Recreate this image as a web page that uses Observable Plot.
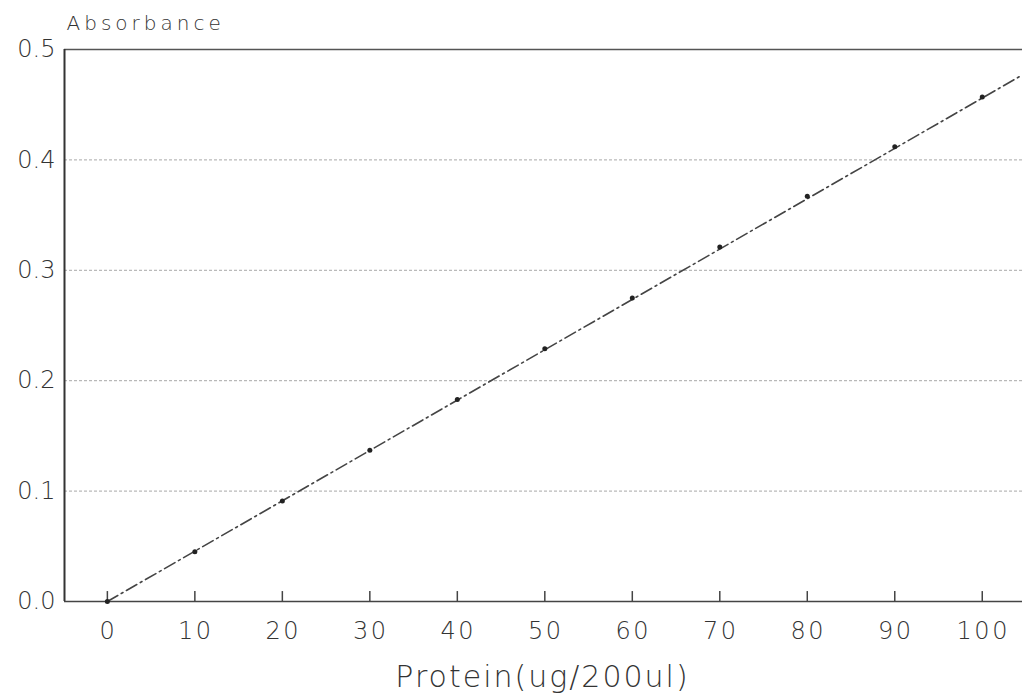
<!DOCTYPE html>
<html>
<head>
<meta charset="utf-8">
<script src="https://cdn.jsdelivr.net/npm/d3@7"></script>
<script src="https://cdn.jsdelivr.net/npm/@observablehq/plot@0.6"></script>
<style>
  html, body { margin: 0; padding: 0; background: #fff; }
  svg { display: block; }
  svg text { font-weight: 200; }
  g[aria-label="x-axis tick label"] text { letter-spacing: 2.5px; }
  g[aria-label="y-axis tick label"] text { letter-spacing: 0px; }
  g.xlabel text { letter-spacing: 2px; }
  g.ylabel text { letter-spacing: 4px; }
</style>
</head>
<body>
<div id="chart"></div>
<script>
const protein = [0, 10, 20, 30, 40, 50, 60, 70, 80, 90, 100];
const absorbance = [0.0, 0.045, 0.091, 0.137, 0.183, 0.229, 0.275, 0.321, 0.367, 0.412, 0.457];
const fitX = [0, 104.6];
const fitY = [0.0, 0.477];
const xTicks = [0, 10, 20, 30, 40, 50, 60, 70, 80, 90, 100];
const yTicks = [0.0, 0.1, 0.2, 0.3, 0.4, 0.5];
const gridY = [0.1, 0.2, 0.3, 0.4];
const xLabel = "Protein(ug/200ul)";
const yLabel = "Absorbance";

const points = protein.map((p, i) => ({x: p, y: absorbance[i]}));
const fit = fitX.map((x, i) => ({x, y: fitY[i]}));

const font = "'DejaVu Sans', sans-serif";

const chart = Plot.plot({
  width: 1022,
  height: 700,
  marginLeft: 64,
  marginRight: 0,
  marginTop: 49,
  marginBottom: 99,
  style: {fontFamily: font, color: "#333", background: "#fff"},
  x: {domain: [-4.9, 104.6], axis: null},
  y: {domain: [0, 0.5], axis: null},
  marks: [
    Plot.ruleY(gridY, {stroke: "#999", strokeWidth: 1, strokeDasharray: "3,2", strokeOpacity: 0.85}),
    Plot.ruleY([0.5], {stroke: "#555", strokeWidth: 1.5}),
    Plot.ruleY([0], {stroke: "#444", strokeWidth: 1.5}),
    Plot.ruleX([-4.9], {stroke: "#333", strokeWidth: 2}),
    Plot.ruleX(xTicks, {y1: 0, y2: 0.009, stroke: "#444", strokeWidth: 1.5}),
    Plot.axisX({ticks: xTicks, tickSize: 0, tickPadding: 20, fontSize: 24, label: null, tickFormat: d => String(d), fill: "#333", dx: 1}),
    Plot.axisY({ticks: yTicks, tickSize: 0, tickPadding: 9, fontSize: 24, label: null, tickFormat: d3.format(".1f"), fill: "#333"}),
    Plot.line(fit, {x: "x", y: "y", stroke: "#444", strokeWidth: 1.6, strokeDasharray: "12,4,2,4"}),
    Plot.dot(points, {x: "x", y: "y", r: 2.5, fill: "#222"}),
    Plot.text([xLabel], {frameAnchor: "bottom", dy: 76, dx: -1, fontSize: 30, fill: "#333", lineAnchor: "middle", className: "xlabel"}),
    Plot.text([yLabel], {frameAnchor: "top-left", dx: 2, dy: -26, fontSize: 20, fill: "#333", textAnchor: "start", lineAnchor: "middle", className: "ylabel"})
  ]
});
document.getElementById("chart").appendChild(chart);
</script>
</body>
</html>
